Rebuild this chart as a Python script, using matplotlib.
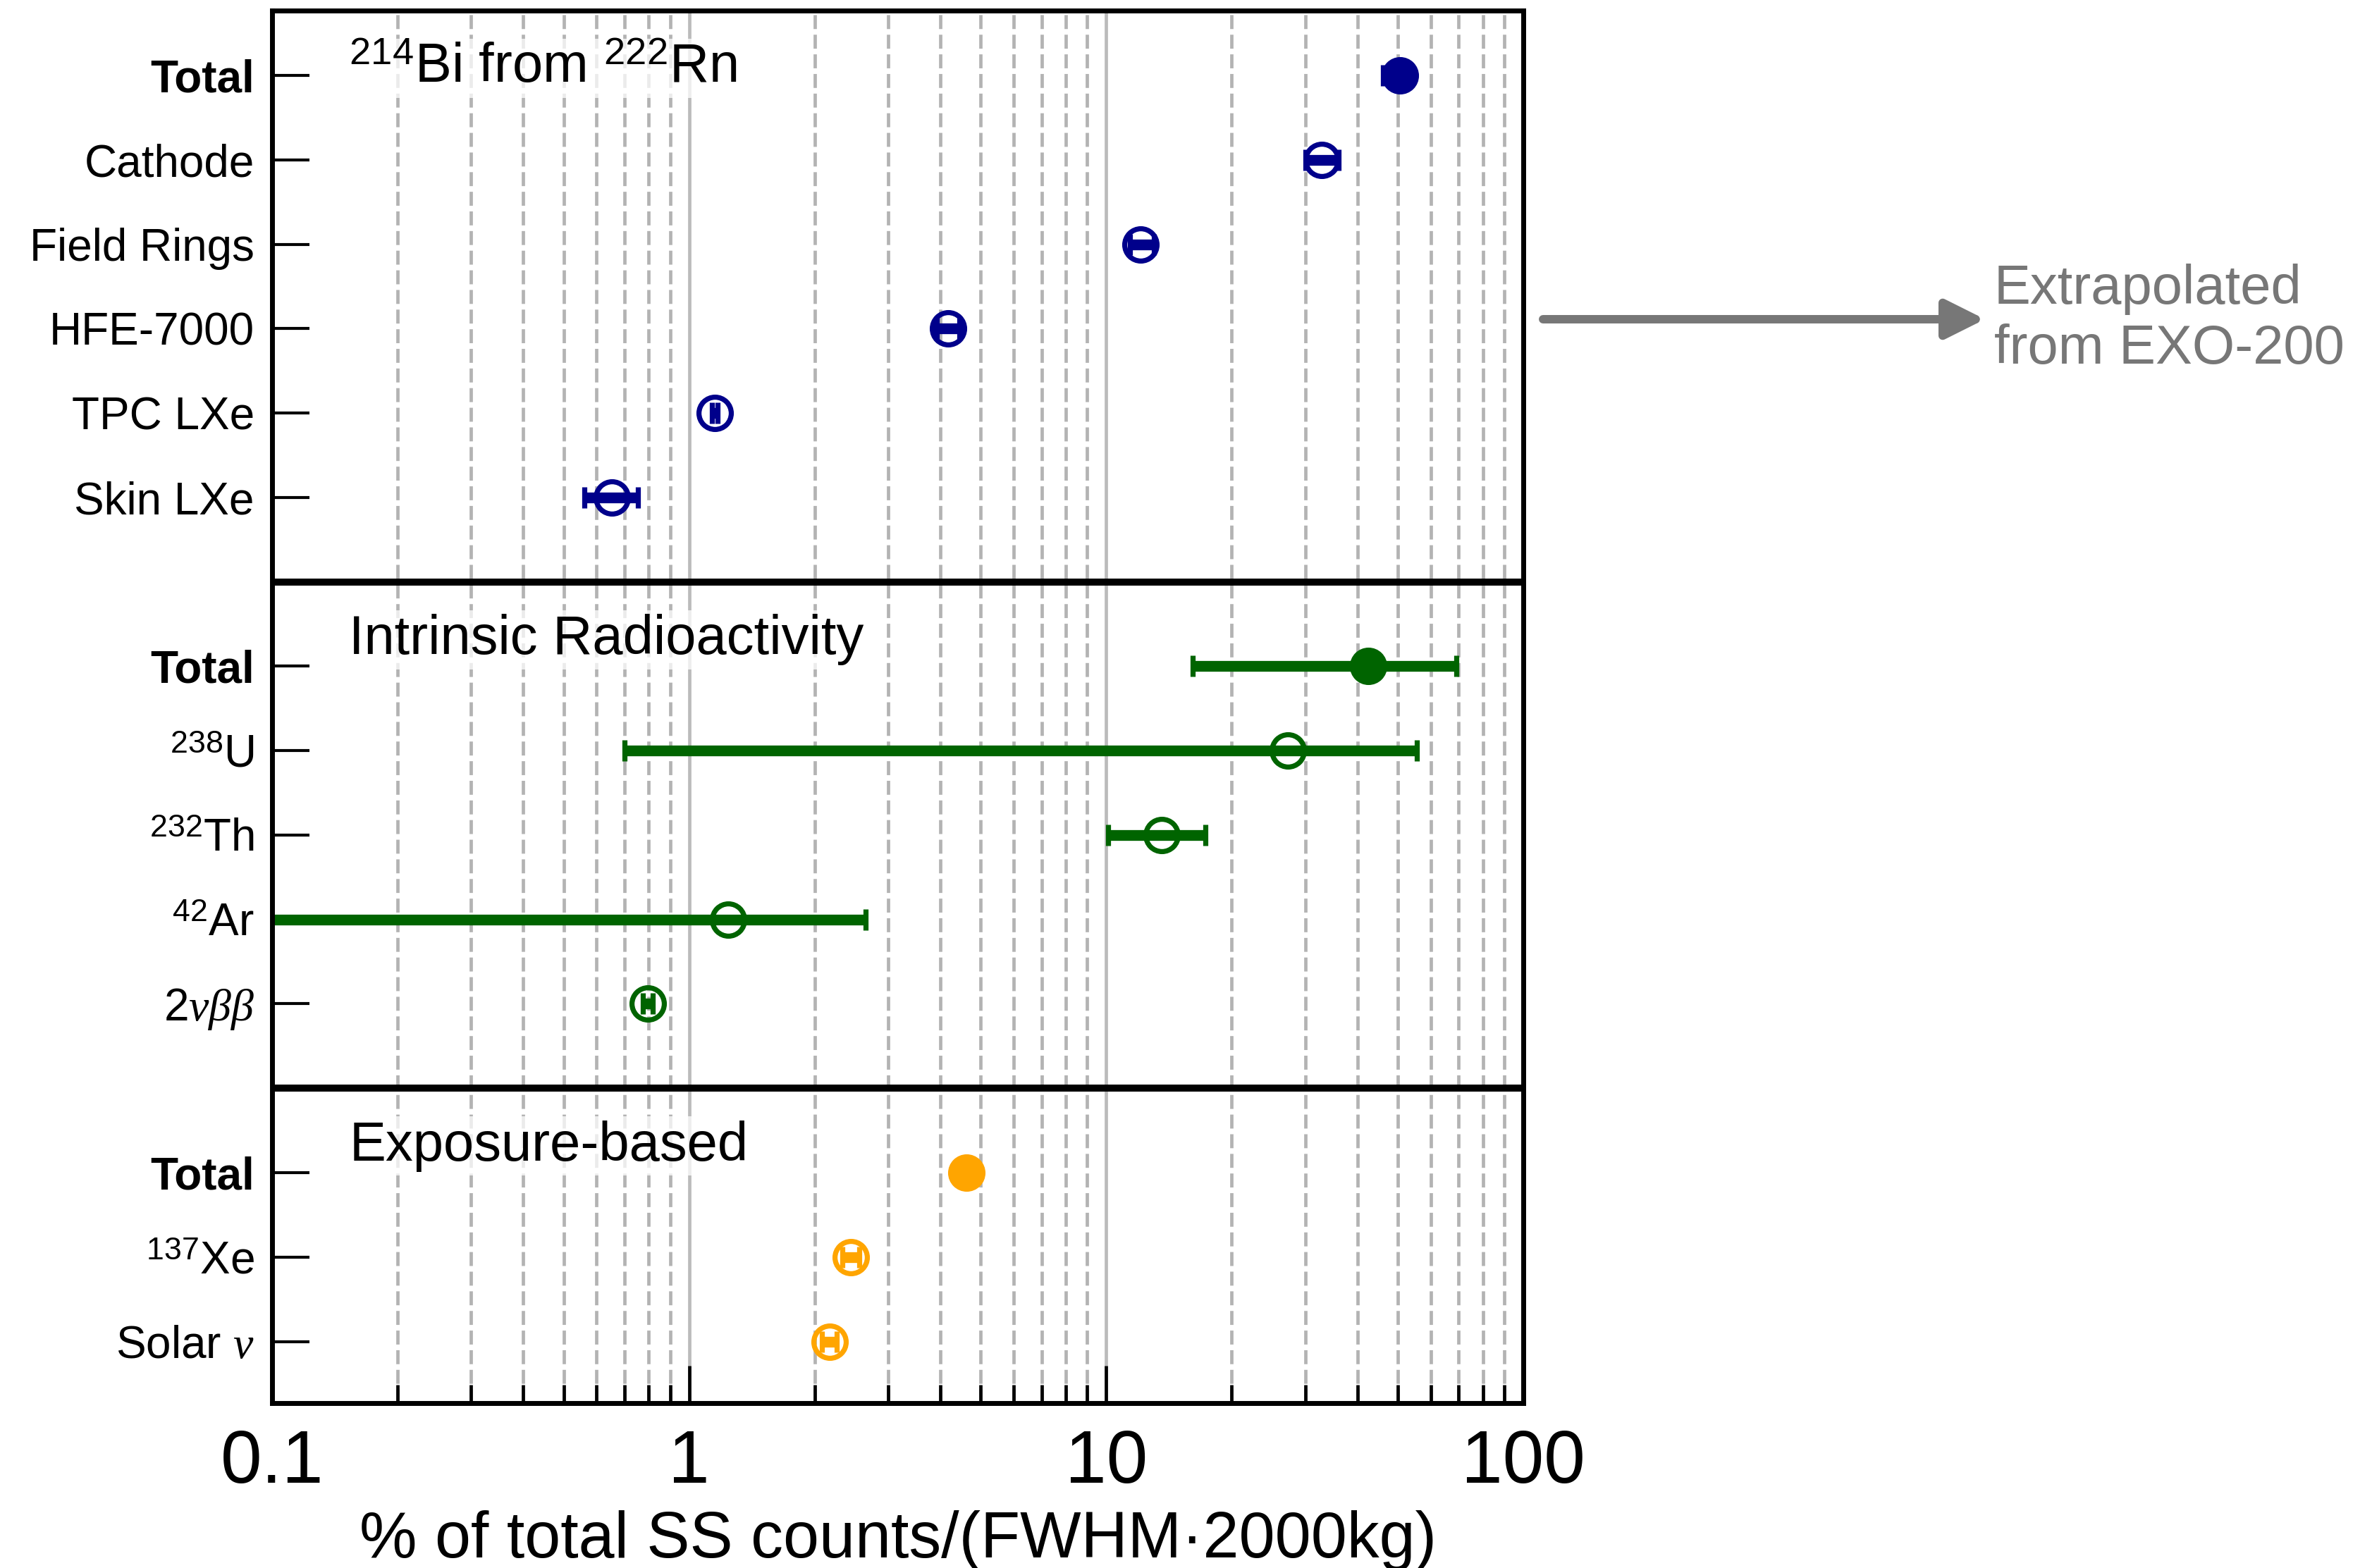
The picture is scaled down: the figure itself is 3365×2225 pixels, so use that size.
import numpy as np
import matplotlib.pyplot as plt

plt.rcParams['font.family'] = ['Liberation Sans', 'DejaVu Sans']
plt.rcParams['mathtext.fontset'] = 'custom'
plt.rcParams['mathtext.rm'] = 'Liberation Sans'
plt.rcParams['mathtext.it'] = 'Liberation Serif:italic'

# 214Bi from 222Rn
rn_labels = ['Total', 'Cathode', 'Field Rings', 'HFE-7000', 'TPC LXe', 'Skin LXe']
rn_vals = [50.7, 32.8, 12.1, 4.18, 1.15, 0.652]
rn_lo = [46.1, 30.0, 11.4, 3.92, 1.133, 0.560]
rn_hi = [52.9, 36.1, 13.0, 4.44, 1.169, 0.753]

# intrinsic radioactivity
ir_labels = ['Total', '$^{238}$U', '$^{232}$Th', '$^{42}$Ar', r'2$\it{\nu\beta\beta}$']
ir_vals = [42.5, 27.3, 13.6, 1.24, 0.796]
ir_lo = [16.1, 0.70, 10.1, 0.01, 0.775]
ir_hi = [69.0, 55.6, 17.3, 2.65, 0.817]

# exposure-based
ex_labels = ['Total', '$^{137}$Xe', r'Solar $\it{\nu}$']
ex_vals = [4.62, 2.44, 2.17]
ex_lo = [4.50, 2.33, 2.08]
ex_hi = [4.74, 2.56, 2.26]

titles = ['$^{214}$Bi from $^{222}$Rn', 'Intrinsic Radioactivity', 'Exposure-based']
groups = [(rn_labels, rn_vals, rn_lo, rn_hi, 'darkblue'),
          (ir_labels, ir_vals, ir_lo, ir_hi, 'darkgreen'),
          (ex_labels, ex_vals, ex_lo, ex_hi, 'orange')]

fig, ax = plt.subplots(figsize=(16.825, 11.125), dpi=200)
fig.subplots_adjust(left=0.1147, right=0.6422, top=0.9933, bottom=0.1052)

top = -0.77
bottom = 15.73
start = 0
yticks = []
ylabels = []
for k, (labels, vals, lo, hi, col) in enumerate(groups):
    pos = start + np.arange(len(labels))
    vals = np.array(vals)
    err = np.array([vals - np.array(lo), np.array(hi) - vals])
    style = dict(fmt='o', ms=16.5, mec=col, mew=2.6, ecolor=col,
                 elinewidth=5.5, capsize=5.5, capthick=5.5, zorder=3)
    ax.errorbar(vals[:1], pos[:1], xerr=err[:, :1], mfc=col, **style)
    ax.errorbar(vals[1:], pos[1:], xerr=err[:, 1:], mfc='none', **style)
    yticks += list(pos)
    ylabels += labels
    panel_top = top if k == 0 else start - 1
    ax.text(0.0617, panel_top + 0.855, titles[k], transform=ax.get_yaxis_transform(),
            fontsize=28, va='baseline', ha='left', zorder=4,
            bbox=dict(facecolor='white', edgecolor='none', alpha=0.75, pad=2))
    start += len(labels) + 1
    if k < len(groups) - 1:
        ax.axhline(start - 1, color='black', lw=3.6, zorder=5)

ax.set_xscale('log')
ax.set_xlim(0.1, 100)
ax.set_ylim(bottom, top)
ax.set_xticks([0.1, 1, 10, 100], ['0.1', '1', '10', '100'])
ax.set_yticks(yticks, ylabels)
ax.tick_params(axis='x', which='major', direction='in', length=19, width=1.7,
               labelsize=38, pad=13, top=False)
ax.tick_params(axis='x', which='minor', direction='in', length=9.4, width=1.7, top=False)
ax.tick_params(axis='y', which='major', direction='in', length=19, width=1.5,
               labelsize=23, pad=9, right=False)
ax.tick_params(axis='y', which='minor', left=False, right=False)
for lab in ax.get_yticklabels():
    if lab.get_text() == 'Total':
        lab.set_fontweight('bold')

ax.grid(axis='x', which='minor', ls=(0, (4.2, 1.7)), lw=1.7, color='#b3b3b3', zorder=1)
ax.grid(axis='x', which='major', ls='-', lw=1.7, color='#bbbbbb', zorder=1)
ax.set_axisbelow(True)
for sp in ax.spines.values():
    sp.set_linewidth(2.5)
    sp.set_zorder(6)

fig.text(0.3786, 0.0067, '% of total SS counts/(FWHM·2000kg)', fontsize=33,
         ha='center', va='baseline')

y_arrow = 1 - 453 / 2225
ax.annotate('', xy=(2816 / 3365, y_arrow), xycoords='figure fraction',
            xytext=(2189 / 3365, y_arrow), textcoords='figure fraction',
            arrowprops=dict(arrowstyle='-|>', color='#777777', lw=4.3,
                            mutation_scale=42, shrinkA=0, shrinkB=0),
            annotation_clip=False)
fig.text(2829 / 3365, y_arrow, 'Extrapolated\nfrom EXO-200', fontsize=28,
         color='#777777', ha='left', va='center', linespacing=1.2)

fig.savefig('out.png', dpi=200)
